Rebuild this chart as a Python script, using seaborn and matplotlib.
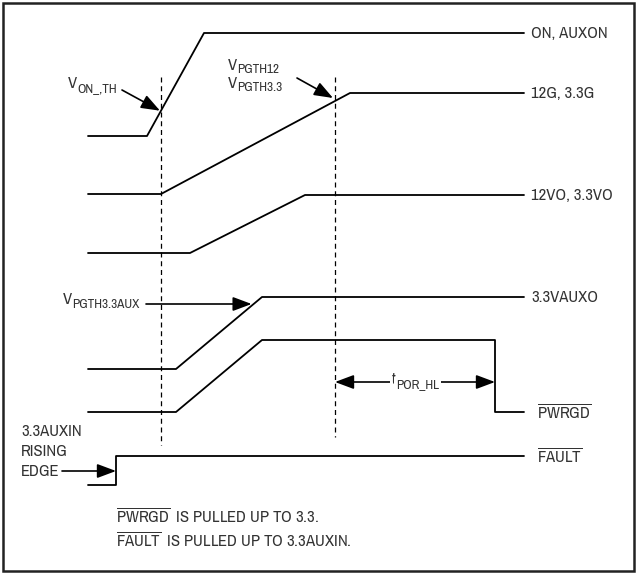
import numpy as np
import pandas as pd
import matplotlib
matplotlib.use("Agg")
import matplotlib.pyplot as plt
from matplotlib.patches import Rectangle
import seaborn as sns

# -----------------------------
# Waveform data (time, level) - sheet units, level grows downward
# -----------------------------
on_t = [88, 147, 204, 524]
on_v = [136, 136, 33, 33]

g_t = [88, 161, 350, 524]
g_v = [194, 194, 93, 93]

vo_t = [88, 190, 305, 524]
vo_v = [253, 253, 195, 195]

aux_t = [88, 176, 262, 524]
aux_v = [369, 369, 297, 297]

pwrgd_t = [88, 176, 262, 495, 495, 524]
pwrgd_v = [412, 412, 340, 340, 412, 412]

fault_t = [88, 116, 116, 524]
fault_v = [485, 485, 456, 456]

trace_names = ["ON, AUXON", "12G, 3.3G", "12VO, 3.3VO", "3.3VAUXO",
               r"$\overline{\mathrm{PWRGD}}$", r"$\overline{\mathrm{FAULT}}$"]
trace_t = [on_t, g_t, vo_t, aux_t, pwrgd_t, fault_t]
trace_v = [on_v, g_v, vo_v, aux_v, pwrgd_v, fault_v]

# marker times and thresholds
t_on = 161
t_pg = 335
v_aux_th = 304

TXT = "#333333"
FONT = "Archivo Narrow"

sns.set_theme(style="white")
plt.rcParams["font.family"] = [FONT, "DejaVu Sans"]
plt.rcParams["mathtext.fontset"] = "custom"
plt.rcParams["mathtext.rm"] = FONT
plt.rcParams["mathtext.it"] = FONT
plt.rcParams["mathtext.bf"] = FONT

rows = []
for name, ts, vs in zip(trace_names, trace_t, trace_v):
    for i, (t, v) in enumerate(zip(ts, vs)):
        rows.append({"trace": name, "order": i, "t": t, "v": v})
df = pd.DataFrame(rows)

fig = plt.figure(figsize=(6.37, 5.74), dpi=100)
ax = fig.add_axes([0, 0, 1, 1])

sns.lineplot(data=df, x="t", y="v", units="trace", estimator=None,
             sort=False, color="black", lw=1.3, legend=False, ax=ax)

ax.set_xlim(0, 637)
ax.set_ylim(574, 0)
ax.axis("off")

# frame
ax.add_patch(Rectangle((3, 3), 631, 568, fill=False, lw=1.8, ec="#222222"))

# dashed marker lines
ax.plot([t_on, t_on], [77, 445], color="black", lw=0.9, ls=(0, (4, 3)))
ax.plot([t_pg, t_pg], [77, 437], color="black", lw=0.9, ls=(0, (4, 3)))

FS = 12
FS_SUB = 9.5

# trace labels
for name, ts, vs in zip(trace_names, trace_t, trace_v):
    dx = 13 if name.startswith("$") else 7
    ax.text(ts[-1] + dx, vs[-1], name, fontsize=FS, color=TXT,
            va="center", ha="left")

arrow = dict(arrowstyle="-|>,head_length=1.15,head_width=0.43",
             color="black", lw=1.2, mutation_scale=10,
             shrinkA=0, shrinkB=0)


def sub_label(x, y, main, sub, box=False):
    kw = {}
    if box:
        kw["bbox"] = dict(fc="white", ec="none", pad=1.5)
    t = ax.text(x, y, main, fontsize=FS, color=TXT, va="center",
                ha="left", zorder=5, **kw)
    ax.annotate(sub, xy=(1, 0), xycoords=t, xytext=(0, -2),
                textcoords="offset points", fontsize=FS_SUB, color=TXT,
                va="bottom", ha="left", zorder=5, **kw)
    return t


# V_ON_,TH
sub_label(68, 84, "V", "ON_,TH")
y_on = np.interp(t_on, on_t[1:3], on_v[1:3])
ax.annotate("", xy=(t_on - 1, y_on), xytext=(122, 90), arrowprops=arrow)

# V_PGTH12 / V_PGTH3.3
sub_label(228, 65, "V", "PGTH12")
sub_label(228, 83, "V", "PGTH3.3")
y_pg = np.interp(t_pg, g_t[1:3], g_v[1:3])
ax.annotate("", xy=(t_pg - 2, y_pg - 3), xytext=(297, 78), arrowprops=arrow)

# V_PGTH3.3AUX
sub_label(63, 300, "V", "PGTH3.3AUX")
x_aux = np.interp(-v_aux_th, [-aux_v[1], -aux_v[2]], aux_t[1:3])
ax.annotate("", xy=(x_aux - 2, v_aux_th), xytext=(146, v_aux_th),
            arrowprops=arrow)

# tPOR_HL
both = dict(arrow, arrowstyle="<|-|>,head_length=1.15,head_width=0.43")
ax.annotate("", xy=(pwrgd_t[3], 382), xytext=(t_pg, 382), arrowprops=both)
sub_label(392, 380, "t", "POR_HL", box=True)

# 3.3AUXIN rising edge
for i, line in enumerate(["3.3AUXIN", "RISING", "EDGE"]):
    ax.text(21, 432 + i * 19.5, line, fontsize=FS, color=TXT,
            va="center", ha="left")
ax.annotate("", xy=(fault_t[1], 471), xytext=(62, 471), arrowprops=arrow)

# notes
ax.text(116, 516, r"$\overline{\mathrm{PWRGD}}$  IS PULLED UP TO 3.3.",
        fontsize=FS, color=TXT, va="center", ha="left")
ax.text(116, 540, r"$\overline{\mathrm{FAULT}}$  IS PULLED UP TO 3.3AUXIN.",
        fontsize=FS, color=TXT, va="center", ha="left")

fig.savefig("out.png", dpi=100)
